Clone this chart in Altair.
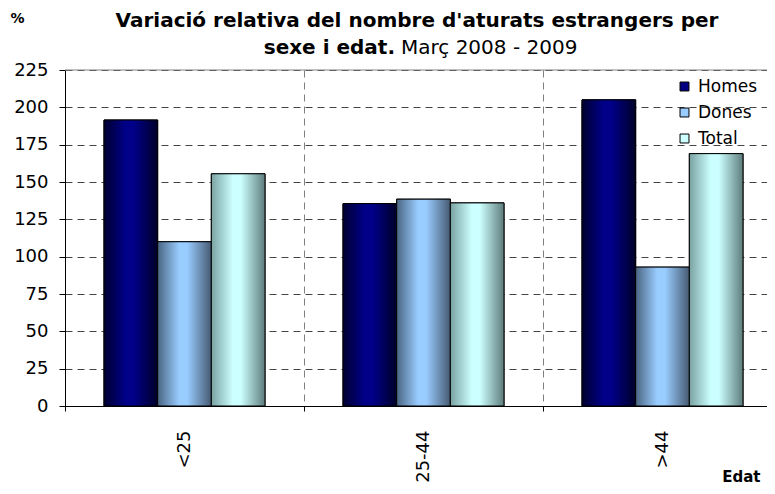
import altair as alt
import pandas as pd

categories = ["<25", "25-44", ">44"]
series = ["Homes", "Dones", "Total"]
homes = [191.5, 135.5, 205]
dones = [110, 138.5, 93]
total = [155.5, 136, 169]

title_line1 = "Variació relativa del nombre d'aturats estrangers per"
title_bold2 = "sexe i edat."
title_norm2 = "Març 2008 - 2009"
y_ticks = [0, 25, 50, 75, 100, 125, 150, 175, 200, 225]

solid_colors = ["#000080", "#99ccff", "#ccffff"]
grad_edges = {
    "Homes": ("#000030", "#000088", "#000028"),
    "Dones": ("#4a6582", "#99ccff", "#465a72"),
    "Total": ("#7aa2a2", "#ccffff", "#5e7c7c"),
}

rows = []
for i, c in enumerate(categories):
    rows.append({"Edat": c, "Serie": "Homes", "Valor": homes[i]})
    rows.append({"Edat": c, "Serie": "Dones", "Valor": dones[i]})
    rows.append({"Edat": c, "Serie": "Total", "Valor": total[i]})
df = pd.DataFrame(rows)

FONT = "DejaVu Sans"

x_axis = alt.Axis(
    title="Edat",
    titleFont=FONT,
    titleFontSize=15,
    titleFontWeight="bold",
    titleColor="black",
    titleX=695,
    titleY=75,
    titleAlign="right",
    titleBaseline="alphabetic",
    labelAngle=-90,
    labelFont=FONT,
    labelFontSize=18,
    labelColor="black",
    labelPadding=19,
    labelOverlap=False,
    tickSize=5,
    tickColor="black",
    tickBand="extent",
    domainColor="black",
    grid=True,
    gridColor="#808080",
    gridDash=[7, 5],
)
x_enc = alt.X(
    "Edat:N",
    sort=categories,
    scale=alt.Scale(domain=categories, paddingInner=0, paddingOuter=0, range=[0, 717]),
    axis=x_axis,
)
xoff_enc = alt.XOffset(
    "Serie:N", sort=series,
    scale=alt.Scale(domain=series, paddingInner=0, paddingOuter=0.727),
)
y_axis = alt.Axis(
    values=y_ticks,
    title="%",
    titleAngle=0,
    titleFont=FONT,
    titleFontSize=14,
    titleFontWeight="bold",
    titleColor="black",
    titleX=-48,
    titleY=-52,
    titleAlign="center",
    titleBaseline="middle",
    labelFont=FONT,
    labelFontSize=18,
    labelColor="black",
    labelPadding=11,
    labelFlush=False,
    labelOverlap=False,
    tickSize=6,
    tickColor="black",
    domainColor="black",
    grid=True,
    gridColor="#444444",
    gridDash=[7, 5],
)
y_scale = alt.Scale(domain=[0, 225], nice=False)
y_enc = alt.Y("Valor:Q", scale=y_scale, axis=y_axis)

base = alt.Chart(df)

legend_layer = base.mark_bar(stroke="black", strokeWidth=1).encode(
    x=x_enc,
    xOffset=xoff_enc,
    y=y_enc,
    color=alt.Color(
        "Serie:N",
        sort=series,
        scale=alt.Scale(domain=series, range=solid_colors),
        legend=alt.Legend(
            title=None,
            orient="none",
            legendX=611,
            legendY=8,
            symbolType="square",
            symbolSize=80,
            symbolStrokeColor="black",
            symbolStrokeWidth=1,
            labelFont=FONT,
            labelFontSize=17,
            labelColor="black",
            rowPadding=8,
            labelOffset=5,
        ),
    ),
)

grad_layers = []
for s in series:
    a, b, c = grad_edges[s]
    grad = alt.LinearGradient(
        gradient="linear",
        x1=0, x2=1, y1=0, y2=0,
        stops=[
            alt.GradientStop(color=a, offset=0),
            alt.GradientStop(color=b, offset=0.4),
            alt.GradientStop(color=b, offset=0.55),
            alt.GradientStop(color=c, offset=1),
        ],
    )
    grad_layers.append(
        base.transform_filter(alt.datum.Serie == s)
        .mark_bar(color=grad, stroke="black", strokeWidth=1)
        .encode(x=x_enc, xOffset=xoff_enc, y=y_enc)
    )

top_rule = alt.Chart(pd.DataFrame({"Valor": [225]})).mark_rule(color="#808080", strokeWidth=1).encode(
    y=y_enc
)

t1 = alt.Chart(pd.DataFrame({"t": [title_line1]})).mark_text(
    font=FONT, fontSize=20, fontWeight="bold", align="center", baseline="alphabetic", color="black"
).encode(text="t:N", x=alt.value(352), y=alt.value(-43))

t2 = alt.Chart(pd.DataFrame({"t": [title_bold2]})).mark_text(
    font=FONT, fontSize=20, fontWeight="bold", align="right", baseline="alphabetic", color="black"
).encode(text="t:N", x=alt.value(330), y=alt.value(-16))

t3 = alt.Chart(pd.DataFrame({"t": [title_norm2]})).mark_text(
    font=FONT, fontSize=20, fontWeight="normal", align="left", baseline="alphabetic", color="black"
).encode(text="t:N", x=alt.value(336), y=alt.value(-16))

chart = alt.layer(legend_layer, *grad_layers, top_rule, t1, t2, t3).properties(
    width=702,
    height=336,
    autosize=alt.AutoSizeParams(type="none"),
    padding={"left": 57, "top": 62, "right": 0, "bottom": 80},
    background="white",
).configure_view(stroke=None)

chart.save("out.html", embed_options={"renderer": "svg", "actions": False})
